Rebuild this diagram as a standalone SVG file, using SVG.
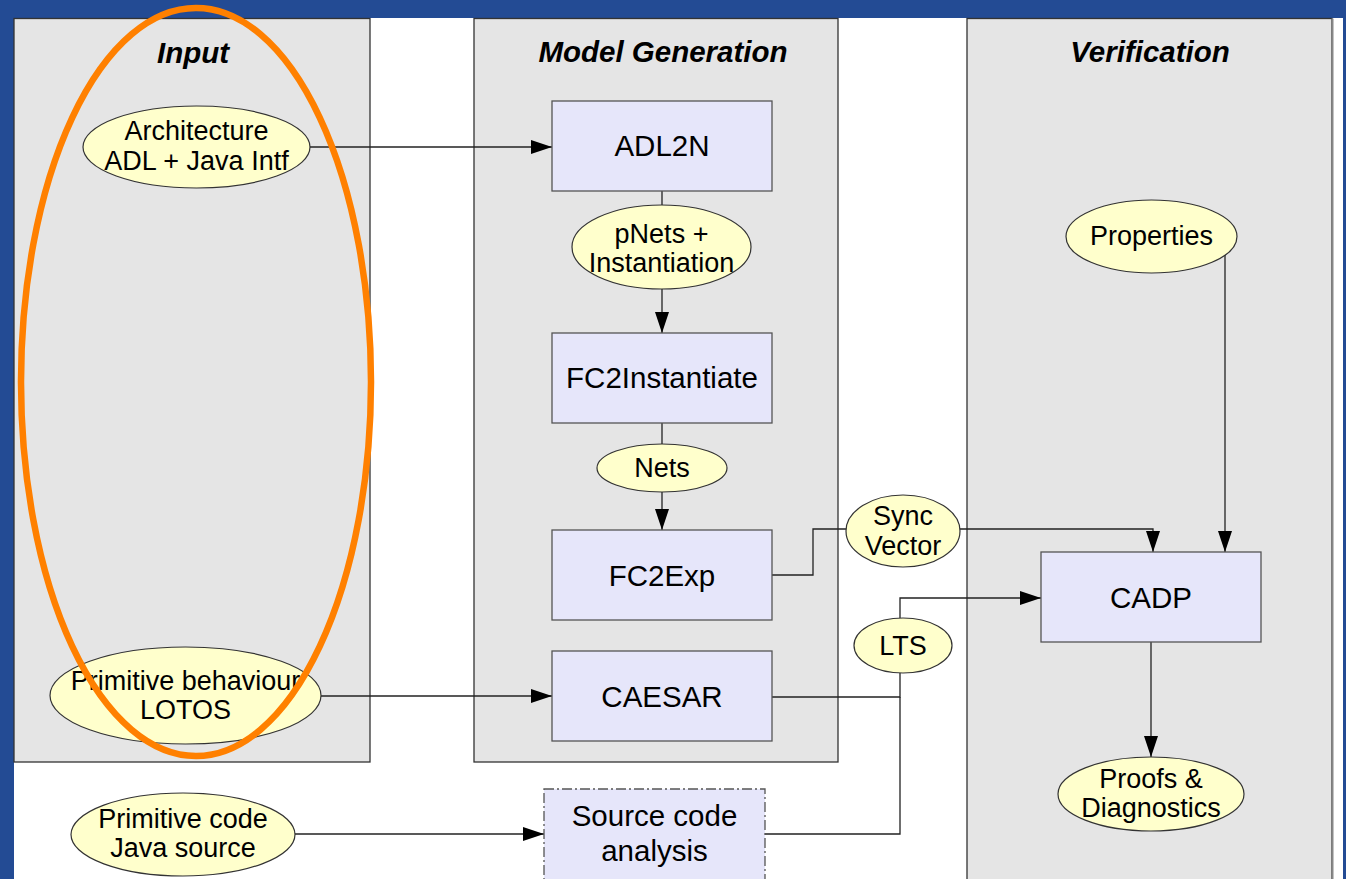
<svg xmlns="http://www.w3.org/2000/svg" width="1346" height="879" viewBox="0 0 1346 879">
<defs>
<marker id="arr" viewBox="0 0 21 14" refX="21" refY="7" markerWidth="21" markerHeight="14" markerUnits="userSpaceOnUse" orient="auto">
<path d="M0,0 L21,7 L0,14 Z" fill="#000"/>
</marker>
<style>
.panel{fill:#E5E5E5;stroke:#333;stroke-width:1.3}
.title{font-family:"Liberation Sans",Arial,sans-serif;font-weight:bold;font-style:italic;font-size:29.5px;text-anchor:middle;fill:#000}
.box{fill:#E6E6FA;stroke:#555;stroke-width:1.3}
.ell{fill:#FFFFCC;stroke:#333;stroke-width:1.2}
.bt{font-family:"Liberation Sans",Arial,sans-serif;font-size:29.5px;text-anchor:middle;fill:#000}
.et{font-family:"Liberation Sans",Arial,sans-serif;font-size:27px;text-anchor:middle;fill:#000}
.con{fill:none;stroke:#222;stroke-width:1.3}
</style>
</defs>
<rect x="0" y="0" width="1346" height="879" fill="#fff"/>
<rect x="0" y="0" width="1346" height="18" fill="#234B94"/>
<rect x="0" y="0" width="14" height="879" fill="#234B94"/>
<rect x="1343" y="0" width="3" height="879" fill="#234B94"/>

<g id="panel-input"><rect class="panel" x="14" y="18.5" width="356" height="743.5"/><text class="title" x="193" y="63">Input</text></g>
<g id="panel-model"><rect class="panel" x="474" y="18.5" width="364" height="743.5"/><text class="title" x="663" y="62">Model Generation</text></g>
<g id="panel-verif"><rect class="panel" x="967" y="18.5" width="365" height="870"/><line x1="1332.5" y1="18.5" x2="1332.5" y2="879" stroke="#888" stroke-width="2"/><text class="title" x="1150" y="62">Verification</text></g>

<g id="connectors">
<line class="con" x1="310" y1="147" x2="552" y2="147" marker-end="url(#arr)"/>
<line class="con" x1="321" y1="696" x2="552" y2="696" marker-end="url(#arr)"/>
<line class="con" x1="295" y1="834" x2="544" y2="834" marker-end="url(#arr)"/>
<line class="con" x1="662" y1="191" x2="662" y2="205"/>
<line class="con" x1="662" y1="289" x2="662" y2="333" marker-end="url(#arr)"/>
<line class="con" x1="662" y1="423" x2="662" y2="444"/>
<line class="con" x1="662" y1="492" x2="662" y2="530" marker-end="url(#arr)"/>
<polyline class="con" points="772,575 813,575 813,529 847,529"/>
<polyline class="con" points="960,529 1153,529 1153,552" marker-end="url(#arr)"/>
<line class="con" x1="1225" y1="255" x2="1225" y2="552" marker-end="url(#arr)"/>
<line class="con" x1="1151" y1="642" x2="1151" y2="757" marker-end="url(#arr)"/>
<polyline class="con" points="772,697 900,697 900,673"/>
<polyline class="con" points="765,834 900,834 900,697"/>
<polyline class="con" points="900,618 900,598 1041,598" marker-end="url(#arr)"/>
</g>

<g id="n-arch"><ellipse class="ell" cx="196.5" cy="147" rx="113.5" ry="41"/><text class="et" x="196.5" y="140">Architecture</text><text class="et" x="196.5" y="170">ADL + Java Intf</text></g>
<g id="n-primbeh"><ellipse class="ell" cx="185.5" cy="695.5" rx="135.5" ry="48.5"/><text class="et" x="185.5" y="690">Primitive behaviour</text><text class="et" x="185.5" y="719">LOTOS</text></g>
<g id="n-primcode"><ellipse class="ell" cx="183" cy="834.5" rx="112" ry="41.5"/><text class="et" x="183" y="828">Primitive code</text><text class="et" x="183" y="857">Java source</text></g>

<g id="n-adl2n"><rect class="box" x="552" y="101" width="220" height="90"/><text class="bt" x="662" y="156">ADL2N</text></g>
<g id="n-pnets"><ellipse class="ell" cx="661.5" cy="247" rx="89.5" ry="42"/><text class="et" x="661.5" y="243">pNets +</text><text class="et" x="661.5" y="272">Instantiation</text></g>
<g id="n-fc2inst"><rect class="box" x="552" y="333" width="220" height="90"/><text class="bt" x="662" y="388">FC2Instantiate</text></g>
<g id="n-nets"><ellipse class="ell" cx="662" cy="468" rx="65" ry="24"/><text class="et" x="662" y="477">Nets</text></g>
<g id="n-fc2exp"><rect class="box" x="552" y="530" width="220" height="90"/><text class="bt" x="662" y="586">FC2Exp</text></g>
<g id="n-caesar"><rect class="box" x="552" y="651" width="220" height="90"/><text class="bt" x="662" y="707">CAESAR</text></g>
<g id="n-src"><rect class="box" x="544" y="789" width="221" height="110" style="stroke-dasharray:10 3 2 3"/><text class="bt" x="654.5" y="826">Source code</text><text class="bt" x="654.5" y="861">analysis</text></g>
<g id="n-sync"><ellipse class="ell" cx="903" cy="531" rx="57" ry="36"/><text class="et" x="903" y="525">Sync</text><text class="et" x="903" y="555">Vector</text></g>
<g id="n-lts"><ellipse class="ell" cx="903" cy="645.5" rx="49" ry="27.5"/><text class="et" x="903" y="655">LTS</text></g>
<g id="n-props"><ellipse class="ell" cx="1151.5" cy="236.5" rx="85.5" ry="36.5"/><text class="et" x="1151.5" y="245">Properties</text></g>
<g id="n-cadp"><rect class="box" x="1041" y="552" width="220" height="90"/><text class="bt" x="1151" y="608">CADP</text></g>
<g id="n-proofs"><ellipse class="ell" cx="1151" cy="794" rx="93" ry="37"/><text class="et" x="1151" y="788">Proofs &amp;</text><text class="et" x="1151" y="817">Diagnostics</text></g>

<ellipse id="highlight" cx="196" cy="382" rx="175" ry="374" fill="none" stroke="#FF8000" stroke-width="6.5"/>
</svg>
